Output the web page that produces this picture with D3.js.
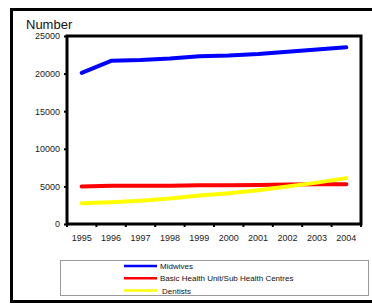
<!DOCTYPE html>
<html>
<head>
<meta charset="utf-8">
<script src="https://cdn.jsdelivr.net/npm/d3@7"></script>
<style>
  body { margin: 0; background: #fff; }
  svg { display: block; font-family: "Liberation Sans", Arial, sans-serif; }
</style>
</head>
<body>
<div id="chart"></div>
<script>
// data
const years = ["1995", "1996", "1997", "1998", "1999", "2000", "2001", "2002", "2003", "2004"];
const midwives = [20100, 21700, 21800, 22000, 22300, 22400, 22600, 22900, 23200, 23500];
const basicHealth = [5000, 5100, 5100, 5100, 5150, 5150, 5200, 5250, 5300, 5300];
const dentists = [2750, 2900, 3100, 3400, 3800, 4100, 4500, 5000, 5500, 6100];
const yTicks = [0, 5000, 10000, 15000, 20000, 25000];
const seriesNames = ["Midwives", "Basic Health Unit/Sub Health Centres", "Dentists"];
const seriesColors = ["#0000ff", "#ff0000", "#ffff00"];

const W = 372, H = 305;
const plot = { left: 67, right: 361, top: 36, bottom: 224 };

const svg = d3.select("#chart").append("svg")
    .attr("width", W)
    .attr("height", H);

// outer frame (right side runs off the picture)
svg.append("rect")
    .attr("x", 11.5).attr("y", 9.5)
    .attr("width", 380).attr("height", 292)
    .attr("fill", "none")
    .attr("stroke", "#000")
    .attr("stroke-width", 3);

const x = d3.scaleBand()
    .domain(years)
    .range([plot.left, plot.right]);

const y = d3.scaleLinear()
    .domain([0, 25000])
    .range([plot.bottom, plot.top]);

// y axis
svg.append("g")
    .attr("transform", `translate(${plot.left},0)`)
    .call(d3.axisLeft(y).tickValues(yTicks).tickFormat(d3.format("d")).tickSize(3).tickPadding(4))
    .call(g => g.select(".domain").remove())
    .call(g => g.selectAll("line").attr("stroke", "#000").attr("stroke-width", 2))
    .call(g => g.selectAll("text").attr("font-size", 9).attr("fill", "#222")
        .attr("font-family", "Liberation Sans, Arial, sans-serif"));

// x axis labels
svg.append("g")
    .attr("transform", `translate(0,${plot.bottom})`)
    .call(d3.axisBottom(x).tickSize(0).tickPadding(11))
    .call(g => g.select(".domain").remove())
    .call(g => g.selectAll("text").attr("font-size", 9).attr("fill", "#222")
        .attr("font-family", "Liberation Sans, Arial, sans-serif"));

// x tick marks sit on the band edges
const edges = years.map(d => x(d)).concat([x.range()[1]]);
svg.append("g").selectAll("line")
    .data(edges)
    .join("line")
    .attr("x1", d => d).attr("x2", d => d)
    .attr("y1", plot.bottom).attr("y2", plot.bottom + 3)
    .attr("stroke", "#000")
    .attr("stroke-width", 2);

// plot frame
svg.append("rect")
    .attr("x", plot.left).attr("y", plot.top)
    .attr("width", plot.right - plot.left)
    .attr("height", plot.bottom - plot.top)
    .attr("fill", "none")
    .attr("stroke", "#000")
    .attr("stroke-width", 3);

// axis title
svg.append("text")
    .attr("x", 26).attr("y", 29)
    .attr("font-size", 13)
    .attr("fill", "#111")
    .text("Number");

// lines
const line = d3.line()
    .x((d, i) => x(years[i]) + x.bandwidth() / 2)
    .y(d => y(d));

const allSeries = [midwives, basicHealth, dentists];
allSeries.forEach((s, i) => {
    svg.append("path")
        .datum(s)
        .attr("fill", "none")
        .attr("stroke", seriesColors[i])
        .attr("stroke-width", 4)
        .attr("stroke-linecap", "round")
        .attr("stroke-linejoin", "round")
        .attr("d", line);
});

// legend
const legend = svg.append("g");
legend.append("rect")
    .attr("x", 60.5).attr("y", 260.5)
    .attr("width", 308).attr("height", 35)
    .attr("fill", "#fff")
    .attr("stroke", "#999")
    .attr("stroke-width", 1);

const items = legend.selectAll("g.item")
    .data(seriesNames)
    .join("g")
    .attr("class", "item")
    .attr("transform", (d, i) => `translate(0,${266 + i * 12.3})`);

items.append("line")
    .attr("x1", 124).attr("x2", 157)
    .attr("y1", 0).attr("y2", 0)
    .attr("stroke", (d, i) => seriesColors[i])
    .attr("stroke-width", 2.5);

items.append("text")
    .attr("x", (d, i) => i === 2 ? 162 : 160)
    .attr("y", 3)
    .attr("font-size", 8)
    .attr("fill", "#111")
    .text(d => d);
</script>
</body>
</html>
